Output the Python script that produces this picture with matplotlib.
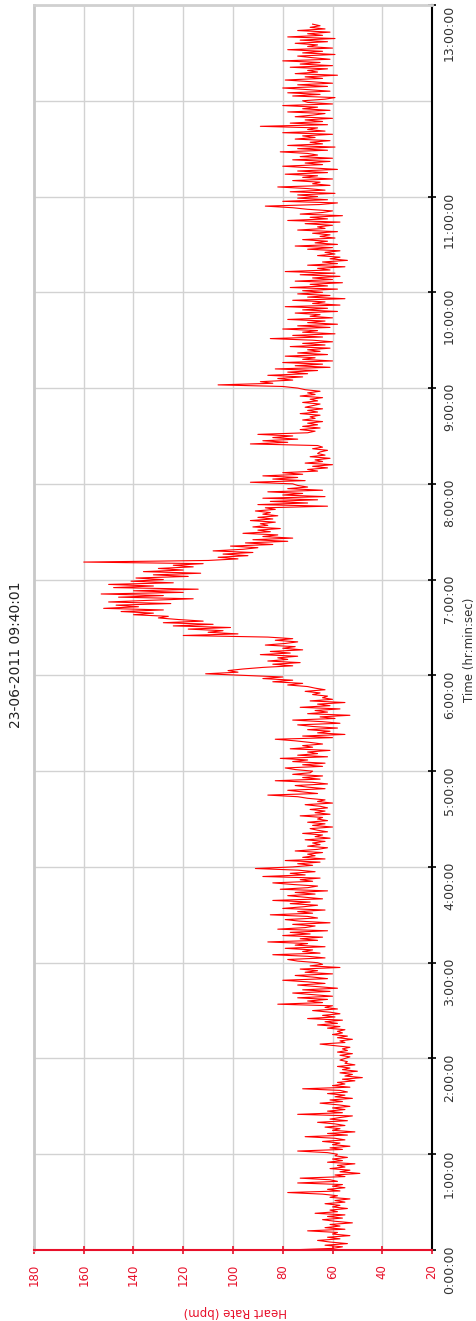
import numpy as np
import matplotlib.pyplot as plt

# heart rate (bpm), one reading per minute, split per hour
h0 = [78, 60, 56, 63, 54, 61, 66, 57, 62, 53, 60, 58, 70, 55, 63, 57, 61, 52, 59, 64,
      56, 62, 55, 67, 58, 61, 54, 60, 57, 63, 55, 59, 53, 61, 58, 64, 78, 57, 62, 55,
      60, 56, 74, 58, 61, 73, 55, 59, 49, 57, 53, 61, 55, 58, 51, 62, 56, 60, 54, 59]
h1 = [58, 62, 74, 56, 61, 53, 60, 57, 64, 55, 59, 71, 54, 62, 51, 60, 57, 63, 55, 59,
      66, 54, 61, 57, 52, 74, 56, 62, 55, 60, 53, 58, 65, 56, 61, 52, 59, 55, 62, 54,
      57, 72, 53, 60, 55, 58, 51, 56, 48, 55, 52, 57, 50, 56, 53, 58, 51, 55, 54, 57]
h2 = [55, 53, 57, 52, 58, 54, 56, 53, 59, 65, 55, 57, 52, 58, 54, 60, 56, 58, 55, 62,
      57, 66, 58, 63, 56, 70, 59, 64, 57, 61, 68, 58, 63, 60, 82, 64, 70, 62, 74, 60,
      68, 76, 61, 72, 58, 66, 74, 63, 70, 80, 62, 68, 75, 60, 71, 66, 73, 57, 69, 64]
h3 = [66, 74, 78, 63, 70, 84, 65, 72, 68, 79, 63, 75, 70, 86, 66, 73, 64, 80, 69, 77,
      62, 82, 71, 67, 76, 61, 73, 79, 66, 70, 85, 68, 74, 63, 80, 72, 66, 77, 69, 84,
      64, 71, 78, 67, 75, 62, 81, 70, 66, 76, 84, 68, 73, 65, 88, 71, 77, 67, 74, 91]
h4 = [76, 68, 74, 65, 79, 63, 72, 67, 70, 64, 75, 66, 62, 70, 65, 68, 63, 71, 61, 67,
      64, 72, 62, 66, 69, 60, 68, 63, 70, 62, 66, 64, 73, 61, 67, 63, 69, 62, 65, 71,
      60, 66, 63, 70, 74, 86, 66, 72, 78, 63, 70, 75, 62, 68, 83, 65, 72, 64, 76, 69]
h5 = [68, 75, 79, 64, 72, 63, 76, 70, 81, 62, 74, 66, 70, 61, 77, 68, 72, 64, 69, 75,
      83, 60, 72, 55, 66, 61, 70, 58, 68, 74, 57, 64, 76, 59, 65, 53, 70, 62, 67, 57,
      73, 61, 66, 55, 69, 60, 64, 62, 68, 65, 71, 63, 67, 70, 78, 72, 84, 76, 88, 80]
h6 = [96, 111, 98, 102, 96, 88, 76, 84, 73, 86, 78, 82, 74, 89, 77, 85, 72, 80, 75, 87,
      79, 74, 83, 76, 86, 120, 98, 110, 104, 118, 101, 124, 108, 128, 112, 122, 130, 126, 140, 132,
      145, 128, 152, 138, 147, 125, 150, 134, 116, 146, 128, 153, 120, 140, 114, 148, 132, 150, 124, 141]
h7 = [128, 139, 118, 132, 113, 136, 120, 130, 116, 124, 112, 160, 110, 98, 106, 94, 104, 92, 108, 96,
      90, 101, 84, 95, 78, 92, 76, 88, 82, 96, 85, 90, 81, 92, 86, 89, 83, 93, 84, 90,
      82, 88, 85, 91, 83, 87, 62, 90, 70, 85, 66, 88, 63, 80, 72, 86, 64, 78, 70, 74]
h8 = [76, 93, 71, 84, 74, 88, 72, 80, 66, 70, 62, 68, 60, 71, 64, 67, 61, 69, 63, 66,
      65, 62, 68, 64, 66, 93, 78, 88, 74, 84, 76, 90, 70, 67, 73, 65, 72, 66, 70, 64,
      72, 67, 69, 65, 73, 66, 70, 64, 71, 68, 65, 72, 66, 69, 64, 73, 67, 70, 65, 71]
h9 = [74, 80, 106, 84, 89, 76, 82, 72, 86, 70, 78, 66, 83, 61, 75, 64, 80, 60, 72, 67,
      79, 62, 74, 65, 70, 61, 77, 63, 72, 60, 68, 85, 64, 76, 59, 72, 66, 80, 61, 74,
      58, 70, 63, 78, 60, 69, 65, 75, 58, 72, 62, 79, 57, 68, 63, 76, 55, 70, 61, 74]
h10 = [64, 72, 58, 77, 62, 69, 56, 75, 60, 68, 57, 73, 59, 79, 61, 66, 55, 70, 58, 64,
       54, 61, 57, 66, 59, 63, 57, 70, 60, 75, 58, 67, 62, 72, 59, 65, 61, 68, 58, 74,
       63, 66, 60, 71, 57, 78, 62, 69, 56, 73, 64, 60, 70, 76, 87, 65, 58, 80, 62, 74]
h11 = [66, 74, 59, 77, 63, 70, 82, 61, 68, 65, 76, 60, 72, 66, 79, 62, 74, 58, 69, 80,
       64, 71, 61, 76, 60, 73, 66, 70, 81, 62, 74, 59, 78, 64, 69, 61, 75, 67, 72, 60,
       80, 63, 70, 66, 89, 62, 77, 64, 71, 60, 75, 68, 63, 78, 61, 72, 66, 80, 60, 70]
h12 = [72, 63, 59, 76, 65, 78, 61, 70, 80, 62, 74, 60, 69, 79, 64, 71, 58, 75, 66, 70,
       62, 77, 60, 73, 65, 80, 61, 68, 74, 59, 72, 64, 78, 60, 70, 66, 75, 62, 73, 59,
       78, 64, 70, 61, 74, 63, 69, 65, 68]

hr = h0 + h1 + h2 + h3 + h4 + h5 + h6 + h7 + h8 + h9 + h10 + h11 + h12
hours = np.arange(len(hr)) / 60.0

hr_ticks = [180, 160, 140, 120, 100, 80, 60, 40, 20]
time_ticks = [0, 1, 2, 3, 4, 5, 6, 7, 8, 9, 10, 11, 13]
time_labels = ["%d:00:00" % h for h in time_ticks]
title = "23-06-2011 09:40:01"

W, H = 476, 1321
fig = plt.figure(figsize=(W / 100, H / 100), dpi=100)
ax = fig.add_axes([34 / W, 71 / H, 398 / W, 1245 / H])

ax.plot(hr, hours, color="#ff0000", lw=0.8)

ax.set_xlim(180, 20)
ax.set_ylim(0, 13)

ax.set_xticks(hr_ticks)
ax.set_xticklabels([str(v) for v in hr_ticks], rotation=90, color="#e8102a", fontsize=8.5)
ax.tick_params(axis="x", colors="#e8102a", direction="inout", length=6, width=1.2, pad=7)

ax.yaxis.tick_right()
ax.set_yticks(time_ticks)
ax.set_yticklabels(time_labels, rotation=90, fontsize=9, color="#333333")
ax.get_yticklabels()[-1].set_va("top")
ax.set_yticks([12], minor=True)
ax.tick_params(axis="y", which="major", direction="inout", length=6, width=1.2, pad=5)
ax.tick_params(axis="y", which="minor", length=0)

ax.grid(True, which="both", color="#d2d2d2", lw=1)
ax.set_axisbelow(True)

ax.spines["left"].set_color("#c8c8c8")
ax.spines["left"].set_linewidth(2)
ax.spines["top"].set_color("#d0d0d0")
ax.spines["top"].set_linewidth(2)
ax.spines["right"].set_color("black")
ax.spines["right"].set_linewidth(1.5)
ax.spines["bottom"].set_color("#e8102a")
ax.spines["bottom"].set_linewidth(1.5)

ax.set_xlabel("Heart Rate (bpm)", color="#e8102a", fontsize=8.5, rotation=180)
ax.xaxis.set_label_coords(0.505, -0.044)
ax.yaxis.set_label_position("right")
ax.set_ylabel("Time (hr:min:sec)", fontsize=8.5, color="#333333", rotation=90)
ax.yaxis.set_label_coords(1.078, 0.482)

fig.text(16 / W, 1 - 655 / H, title, rotation=90, ha="center", va="center",
         fontsize=10, color="#222222")

fig.savefig("out.png", dpi=100)
